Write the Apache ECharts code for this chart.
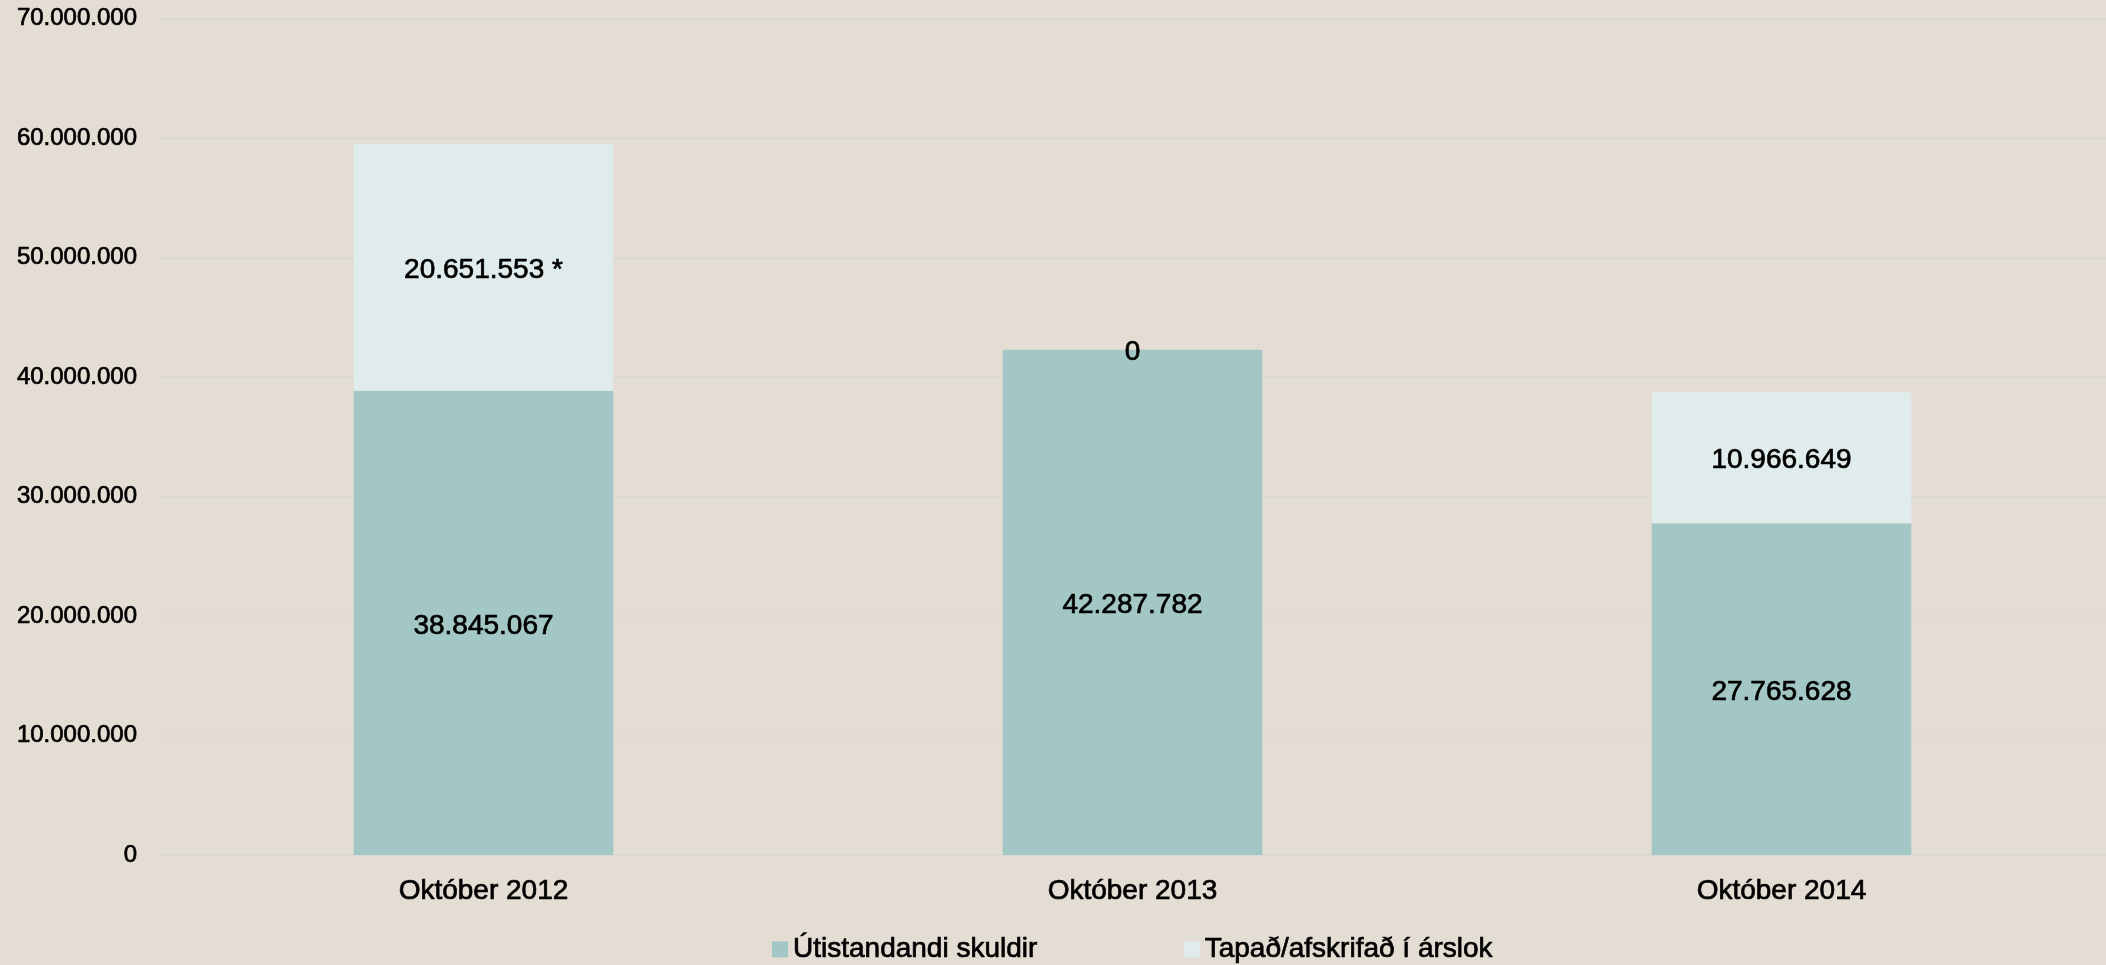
<!DOCTYPE html>
<html>
<head>
<meta charset="utf-8">
<script src="https://cdn.jsdelivr.net/npm/echarts@6/dist/echarts.min.js"></script>
<style>
html,body{margin:0;padding:0;background:#e4ddd3;}
#chart{width:2106px;height:965px;}
</style>
</head>
<body>
<div id="chart"></div>
<script>
const categories = ['Október 2012', 'Október 2013', 'Október 2014'];
const seriesNames = ['Útistandandi skuldir', 'Tapað/afskrifað í árslok'];
const outstanding = [38845067, 42287782, 27765628];
const writtenOff = [20651553, 0, 10966649];
const writtenOffLabels = ['20.651.553 *', '0', '10.966.649'];
const yTicks = [0, 10000000, 20000000, 30000000, 40000000, 50000000, 60000000, 70000000];

function fmt(v) {
  return String(Math.round(v)).replace(/\B(?=(\d{3})+(?!\d))/g, '.');
}

const chart = echarts.init(document.getElementById('chart'));
const font = '"Liberation Sans", Arial, Helvetica, sans-serif';
const heavy = { textBorderColor: '#000', textBorderWidth: 0.7 };
chart.setOption({
  backgroundColor: '#e4ddd3',
  animation: false,
  textStyle: { fontFamily: font },
  grid: { left: 159, right: 0, top: 18.5, bottom: 110, containLabel: false },
  legend: {
    data: seriesNames,
    left: 767,
    top: 930,
    itemWidth: 16,
    itemHeight: 16,
    itemGap: 146,
    icon: 'rect',
    textStyle: Object.assign({ fontSize: 28, color: '#000', fontFamily: font }, heavy)
  },
  xAxis: {
    type: 'category',
    data: categories,
    axisLine: { show: true, lineStyle: { color: '#dcd9d4', width: 2 } },
    axisTick: { show: false },
    axisLabel: Object.assign({ fontSize: 28, color: '#000', margin: 22, fontFamily: font }, heavy)
  },
  yAxis: {
    type: 'value',
    min: yTicks[0],
    max: yTicks[yTicks.length - 1],
    interval: 10000000,
    axisLine: { show: false },
    axisTick: { show: false },
    splitLine: { lineStyle: { color: '#dcd9d4', width: 2 } },
    axisLabel: Object.assign({ fontSize: 24, color: '#000', margin: 22, fontFamily: font, formatter: v => fmt(v) }, heavy)
  },
  series: [
    {
      name: seriesNames[0],
      type: 'bar',
      stack: 'total',
      barWidth: '40%',
      data: outstanding,
      itemStyle: { color: '#a3c7c4' },
      label: Object.assign({ show: true, position: 'inside', offset: [0, 3], fontSize: 28, color: '#000', fontFamily: font, formatter: p => fmt(p.value) }, heavy)
    },
    {
      name: seriesNames[1],
      type: 'bar',
      stack: 'total',
      barWidth: '40%',
      data: writtenOff,
      itemStyle: { color: '#e0ecec' },
      label: Object.assign({ show: true, position: 'inside', offset: [0, 3], fontSize: 28, color: '#000', fontFamily: font, formatter: p => writtenOffLabels[p.dataIndex] }, heavy)
    }
  ]
});
</script>
</body>
</html>
